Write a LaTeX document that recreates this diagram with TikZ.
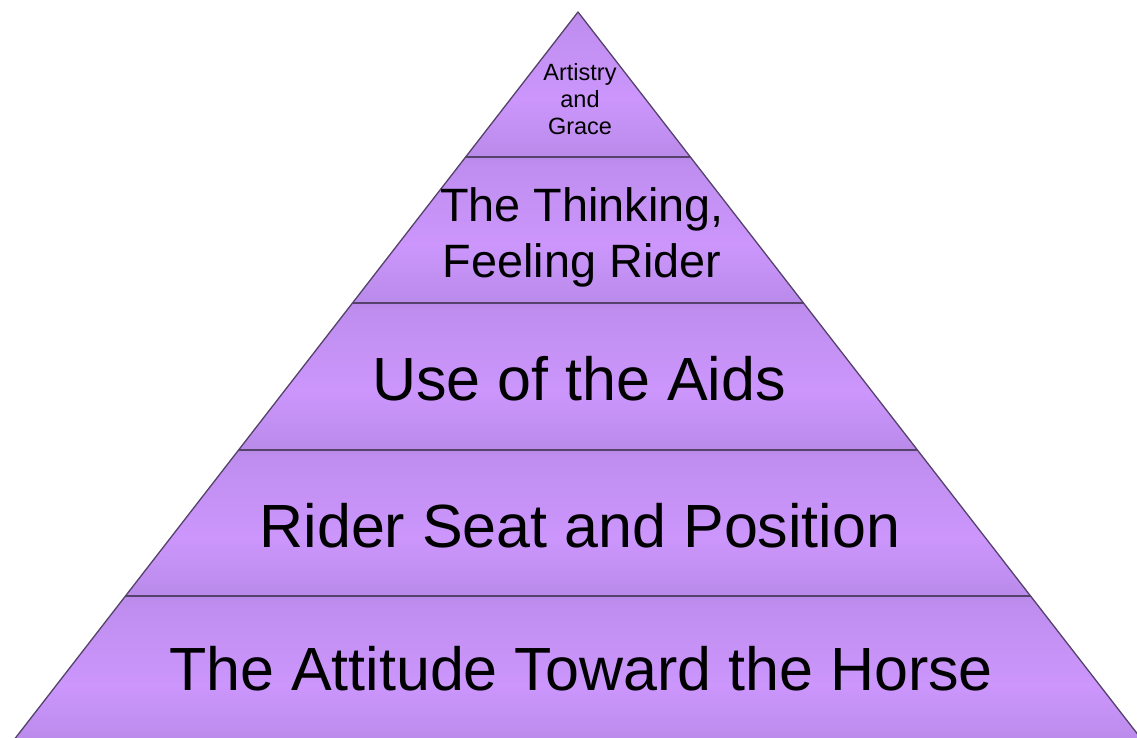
\documentclass[tikz,border=0pt]{standalone}
\usepackage{fontspec}
\setmainfont{Liberation Sans}
\definecolor{bdarktop}{RGB}{138,106,186}
\definecolor{bdarkbot}{RGB}{146,114,196}
\definecolor{blight}{RGB}{204,150,252}
\definecolor{edgecol}{RGB}{84,66,106}
\pgfdeclareverticalshading{bandshade}{100bp}{color(0bp)=(bdarkbot); color(14bp)=(bdarkbot!50!blight); color(45bp)=(blight); color(72bp)=(blight!80!bdarktop); color(92bp)=(bdarktop!70!blight); color(100bp)=(bdarktop)}
\tikzset{
  band/.style={shading=bandshade},
  edge/.style={draw=edgecol, line width=1.3pt, line join=round},
  divider/.style={draw=edgecol, line width=2pt},
  lbl/.style={anchor=base, inner sep=0pt, text=black}
}
\begin{document}
\begin{tikzpicture}[x=1pt,y=-1pt]
\useasboundingbox (0,0) rectangle (1137,738);
\clip (0,0) rectangle (1137,738);
\fill[white] (0,0) rectangle (1137,738);
% apex and layer corners (half-slope 0.775)
\coordinate (apex) at (578,12);
\coordinate (l1) at (465.6,157); \coordinate (r1) at (690.4,157);
\coordinate (l2) at (352.5,303); \coordinate (r2) at (803.5,303);
\coordinate (l3) at (238.6,450); \coordinate (r3) at (917.4,450);
\coordinate (l4) at (125.4,596); \coordinate (r4) at (1030.6,596);
\coordinate (l5) at (10,745);    \coordinate (r5) at (1146,745);
% bands
\shade[band] (apex) -- (r1) -- (l1) -- cycle;
\shade[band] (l1) -- (r1) -- (r2) -- (l2) -- cycle;
\shade[band] (l2) -- (r2) -- (r3) -- (l3) -- cycle;
\shade[band] (l3) -- (r3) -- (r4) -- (l4) -- cycle;
\shade[band] (l4) -- (r4) -- (r5) -- (l5) -- cycle;
% outline and dividers
\draw[edge] (l5) -- (apex) -- (r5);
\draw[divider] (l1) -- (r1);
\draw[divider] (l2) -- (r2);
\draw[divider] (l3) -- (r3);
\draw[divider] (l4) -- (r4);
% labels
\node[lbl, font=\fontsize{23.5}{27}\selectfont] (t1a) at (580,81) {Artistry};
\node[lbl, font=\fontsize{23.5}{27}\selectfont] (t1b) at (580,108) {and};
\node[lbl, font=\fontsize{23.5}{27}\selectfont] (t1c) at (580,135) {Grace};
\node[lbl, font=\fontsize{46.8}{55}\selectfont] (t2a) at (582,222) {The Thinking,};
\node[lbl, font=\fontsize{46.8}{55}\selectfont] (t2b) at (582,277) {Feeling Rider};
\node[lbl, font=\fontsize{61}{72}\selectfont] (t3) at (579,400) {Use of the Aids};
\node[lbl, font=\fontsize{61}{72}\selectfont] (t4) at (580,547) {Rider Seat and Position};
\node[lbl, font=\fontsize{61}{72}\selectfont] (t5) at (581,690) {The Attitude Toward the Horse};
\end{tikzpicture}
\end{document}
